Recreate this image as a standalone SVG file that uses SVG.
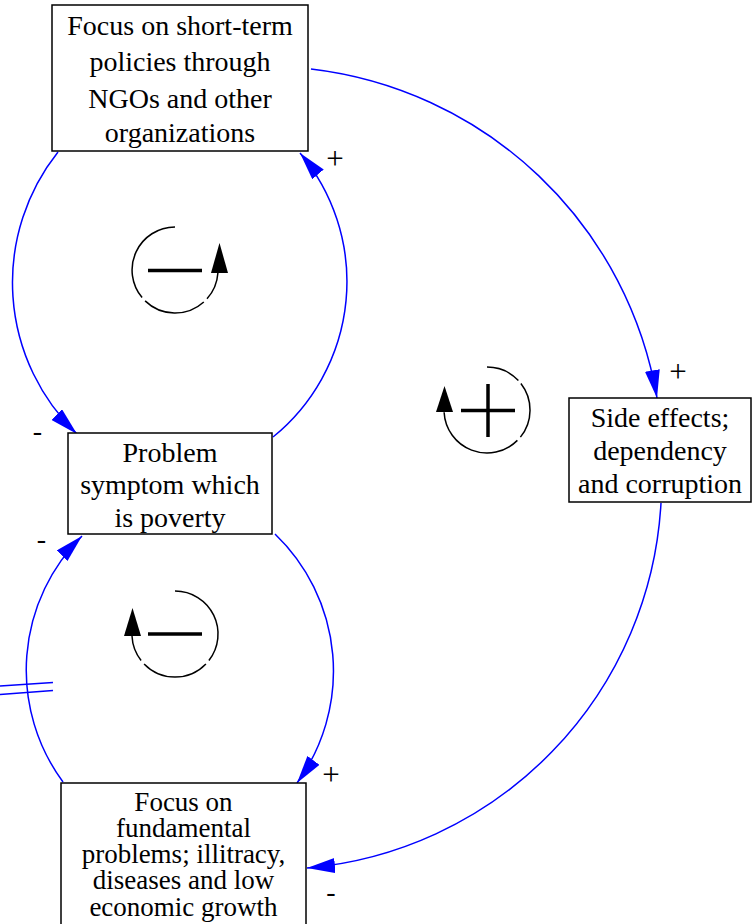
<svg xmlns="http://www.w3.org/2000/svg" width="752" height="924" viewBox="0 0 752 924">
<defs>
<marker id="arr" viewBox="0 0 28 15" refX="28" refY="7.5" markerWidth="28" markerHeight="15" markerUnits="userSpaceOnUse" orient="auto">
<path d="M0,0 L28,7.5 L0,15 z" fill="#0000ff"/>
</marker>
</defs>
<style>
.box{fill:#fff;stroke:#000;stroke-width:1.5}
.t{font-family:'Liberation Serif','DejaVu Serif',serif;font-size:28px;fill:#000;text-anchor:middle}
.s{font-size:27px}
.p{font-size:31px}
.c{fill:none;stroke:#0000ff;stroke-width:1.5;marker-end:url(#arr)}
.d{fill:none;stroke:#0000ff;stroke-width:1.5}
.lp{fill:none;stroke:#000;stroke-width:1.5}
.sg{stroke:#000;stroke-width:3.5}
.ah{fill:#000}
</style>
<g id="connectors">
<path class="c" d="M311,69 A398,398 0 0,1 657,398"/>
<path class="c" d="M58,152 A210,210 0 0,0 77,434"/>
<path class="c" d="M273,437 A200,200 0 0,0 300,153"/>
<path class="c" d="M275,534 A190,190 0 0,1 297,783"/>
<path class="c" d="M63,782 A189,189 0 0,1 82,536"/>
<path class="c" d="M661,503 A388,388 0 0,1 307,868"/>
<line class="d" x1="0" y1="686" x2="53" y2="682.5"/>
<line class="d" x1="0" y1="694.5" x2="53" y2="690.5"/>
<text class="t p" x="335" y="169">+</text>
<text class="t p" x="678" y="382">+</text>
<text class="t" x="37.5" y="440">-</text>
<text class="t" x="41.5" y="548">-</text>
<text class="t p" x="331" y="785">+</text>
<text class="t" x="331" y="901">-</text>
</g>
<g id="loop1">
<path class="lp" d="M175,227 A43,43 0 0,0 142.1,297.6"/>
<path class="lp" d="M145.1,300.9 A43,43 0 0,0 203.8,302"/>
<path class="lp" d="M207,298.8 A43,43 0 0,0 217.9,273"/>
<path class="ah" d="M219.5,243 L228,273 L211,273 z"/>
<line class="sg" x1="148" y1="270.5" x2="202" y2="270.5"/>
</g>
<g id="loop2">
<path class="lp" d="M487,367 A43,43 0 0,1 518.4,380.6"/>
<path class="lp" d="M520.9,383.5 A43,43 0 0,1 520.4,437.1"/>
<path class="lp" d="M517.4,440.4 A43,43 0 0,1 444.1,412.2"/>
<path class="ah" d="M444.5,386 L453,412 L436,412 z"/>
<line class="sg" x1="461" y1="410.5" x2="515" y2="410.5"/>
<line class="sg" x1="488" y1="384" x2="488" y2="437"/>
</g>
<g id="loop3">
<path class="lp" d="M175,591 A43,43 0 0,1 208.9,660.5"/>
<path class="lp" d="M205.9,663.9 A43,43 0 0,1 144.1,663.9"/>
<path class="lp" d="M141.1,660.5 A43,43 0 0,1 132,636"/>
<path class="ah" d="M132.5,608 L141,636 L124,636 z"/>
<line class="sg" x1="148" y1="634" x2="202" y2="634"/>
</g>
<g id="node1">
<rect class="box" x="52" y="5" width="256" height="146"/>
<text class="t" x="180" y="35">Focus on short-term</text>
<text class="t" x="180" y="71">policies through</text>
<text class="t" x="180" y="107.5">NGOs and other</text>
<text class="t" x="180" y="142">organizations</text>
</g>
<g id="node2">
<rect class="box" x="68" y="433" width="204" height="101"/>
<text class="t" x="170" y="461.5">Problem</text>
<text class="t" x="170" y="494">symptom which</text>
<text class="t" x="170" y="526.5">is poverty</text>
</g>
<g id="node3">
<rect class="box" x="569" y="398" width="182" height="104"/>
<text class="t" x="660" y="426.5">Side effects;</text>
<text class="t" x="660" y="460">dependency</text>
<text class="t" x="660" y="493">and corruption</text>
</g>
<g id="node4">
<rect class="box" x="61" y="783" width="245" height="150"/>
<text class="t s" x="183.5" y="810.5">Focus on</text>
<text class="t s" x="183.5" y="836.5">fundamental</text>
<text class="t s" x="183.5" y="862.5">problems; illitracy,</text>
<text class="t s" x="183.5" y="889">diseases and low</text>
<text class="t s" x="183.5" y="915.5">economic growth</text>
</g>
</svg>
